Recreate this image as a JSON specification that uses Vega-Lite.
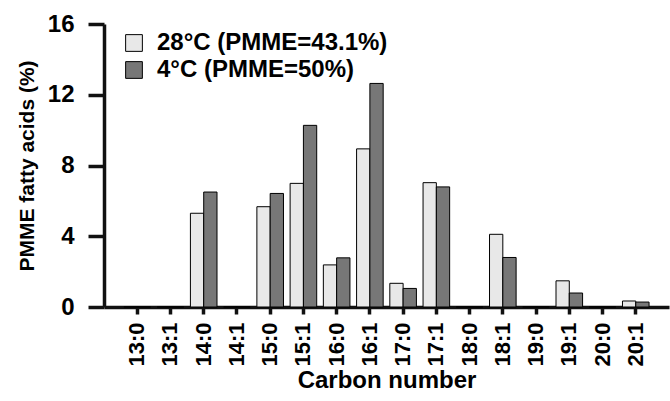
{
  "$schema": "https://vega.github.io/schema/vega-lite/v6.json",
  "autosize": {"type": "none"},
  "padding": {"left": 104, "top": 24, "right": 1, "bottom": 94},
  "width": 565,
  "height": 283,
  "background": "white",
  "config": {
    "font": "Liberation Sans",
    "view": {"stroke": null},
    "axis": {"domainColor": "#111111", "tickColor": "#111111", "domainWidth": 3.5, "tickWidth": 3.5}
  },
  "data": {
    "values": [
      {"carbon": "13:0", "temp": "28°C (PMME=43.1%)", "pct": 0},
      {"carbon": "13:0", "temp": "4°C (PMME=50%)", "pct": 0},
      {"carbon": "13:1", "temp": "28°C (PMME=43.1%)", "pct": 0},
      {"carbon": "13:1", "temp": "4°C (PMME=50%)", "pct": 0},
      {"carbon": "14:0", "temp": "28°C (PMME=43.1%)", "pct": 5.3},
      {"carbon": "14:0", "temp": "4°C (PMME=50%)", "pct": 6.5},
      {"carbon": "14:1", "temp": "28°C (PMME=43.1%)", "pct": 0},
      {"carbon": "14:1", "temp": "4°C (PMME=50%)", "pct": 0},
      {"carbon": "15:0", "temp": "28°C (PMME=43.1%)", "pct": 5.67},
      {"carbon": "15:0", "temp": "4°C (PMME=50%)", "pct": 6.42},
      {"carbon": "15:1", "temp": "28°C (PMME=43.1%)", "pct": 6.99},
      {"carbon": "15:1", "temp": "4°C (PMME=50%)", "pct": 10.27},
      {"carbon": "16:0", "temp": "28°C (PMME=43.1%)", "pct": 2.38},
      {"carbon": "16:0", "temp": "4°C (PMME=50%)", "pct": 2.78},
      {"carbon": "16:1", "temp": "28°C (PMME=43.1%)", "pct": 8.94},
      {"carbon": "16:1", "temp": "4°C (PMME=50%)", "pct": 12.64},
      {"carbon": "17:0", "temp": "28°C (PMME=43.1%)", "pct": 1.34},
      {"carbon": "17:0", "temp": "4°C (PMME=50%)", "pct": 1.05},
      {"carbon": "17:1", "temp": "28°C (PMME=43.1%)", "pct": 7.03},
      {"carbon": "17:1", "temp": "4°C (PMME=50%)", "pct": 6.79},
      {"carbon": "18:0", "temp": "28°C (PMME=43.1%)", "pct": 0},
      {"carbon": "18:0", "temp": "4°C (PMME=50%)", "pct": 0},
      {"carbon": "18:1", "temp": "28°C (PMME=43.1%)", "pct": 4.11},
      {"carbon": "18:1", "temp": "4°C (PMME=50%)", "pct": 2.8},
      {"carbon": "19:0", "temp": "28°C (PMME=43.1%)", "pct": 0},
      {"carbon": "19:0", "temp": "4°C (PMME=50%)", "pct": 0},
      {"carbon": "19:1", "temp": "28°C (PMME=43.1%)", "pct": 1.48},
      {"carbon": "19:1", "temp": "4°C (PMME=50%)", "pct": 0.79},
      {"carbon": "20:0", "temp": "28°C (PMME=43.1%)", "pct": 0},
      {"carbon": "20:0", "temp": "4°C (PMME=50%)", "pct": 0},
      {"carbon": "20:1", "temp": "28°C (PMME=43.1%)", "pct": 0.34},
      {"carbon": "20:1", "temp": "4°C (PMME=50%)", "pct": 0.28}
    ]
  },
  "mark": {"type": "bar", "stroke": "black", "strokeWidth": 1},
  "encoding": {
    "x": {
      "field": "carbon", "type": "nominal",
      "scale": {"domain": ["13:0","13:1","14:0","14:1","15:0","15:1","16:0","16:1","17:0","17:1","18:0","18:1","19:0","19:1","20:0","20:1"], "paddingInner": 0.2, "paddingOuter": 0.6},
      "axis": {"title": "Carbon number", "grid": false, "labelFontWeight": "bold", "titleFontWeight": "bold", "labelColor": "black", "titleColor": "black", "titleFontSize": 24, "labelFontSize": 22, "labelAngle": 270, "labelPadding": 8, "tickSize": 7, "titlePadding": 2}
    },
    "xOffset": {"field": "temp", "type": "nominal", "scale": {"domain": ["28°C (PMME=43.1%)", "4°C (PMME=50%)"], "paddingInner": 0}},
    "y": {
      "field": "pct", "type": "quantitative",
      "scale": {"domain": [0, 16], "nice": false},
      "axis": {"title": "PMME fatty acids (%)", "grid": false, "labelFontWeight": "bold", "titleFontWeight": "bold", "labelColor": "black", "titleColor": "black", "titleFontSize": 21, "labelFontSize": 24, "values": [0, 4, 8, 12, 16], "tickSize": 16, "labelPadding": 14, "titlePadding": 10}
    },
    "color": {
      "field": "temp", "type": "nominal",
      "scale": {"domain": ["28°C (PMME=43.1%)", "4°C (PMME=50%)"], "range": ["#e8e8e8", "#777777"]},
      "legend": {"title": null, "orient": "none", "legendX": 18, "legendY": 7, "padding": 0, "symbolType": "square", "symbolSize": 280, "symbolStrokeColor": "black", "symbolStrokeWidth": 1, "labelFontSize": 24, "labelFontWeight": "bold", "labelColor": "black", "labelOffset": 11, "rowPadding": 3, "labelLimit": 400}
    }
  }
}
